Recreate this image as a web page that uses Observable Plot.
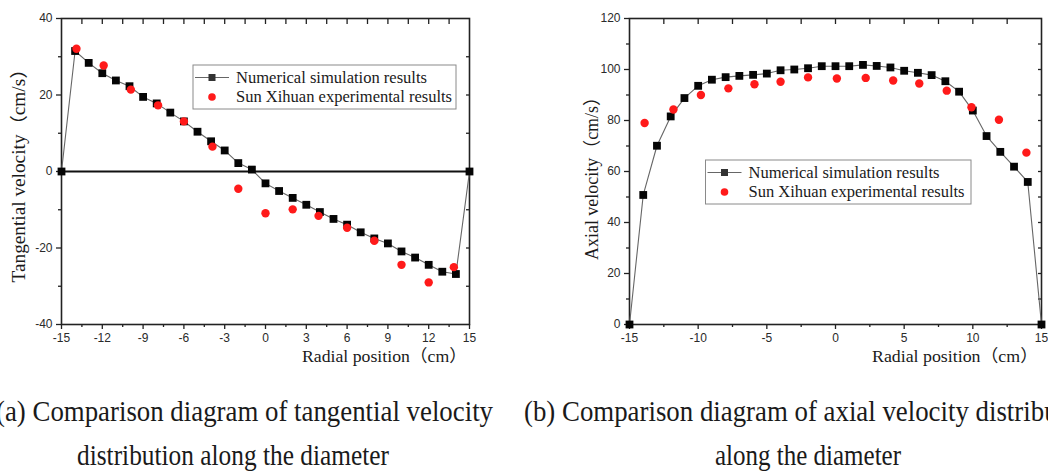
<!DOCTYPE html>
<html>
<head>
<meta charset="utf-8">
<script src="https://cdn.jsdelivr.net/npm/d3@7"></script>
<script src="https://cdn.jsdelivr.net/npm/@observablehq/plot@0.6"></script>
<style>
  html, body { margin: 0; padding: 0; background: #fff; }
  #wrap { position: relative; width: 1048px; height: 473px; overflow: hidden; background: #fff; }
  #pa { position: absolute; left: 0; top: 0; width: 520px; }
  #pb { position: absolute; left: 540px; top: 0; width: 540px; }
  #pa svg, #pb svg { max-width: none !important; }
  #ov { position: absolute; left: 0; top: 0; }
</style>
</head>
<body>
<div id="wrap">
  <div id="pa"></div>
  <div id="pb"></div>
  <svg id="ov" width="1048" height="473"></svg>
</div>
<script>
// ---------- Data: (a) tangential velocity ----------
const tanNumX = [-15,-14,-13,-12,-11,-10,-9,-8,-7,-6,-5,-4,-3,-2,-1,0,1,2,3,4,5,6,7,8,9,10,11,12,13,14,15];
const tanNumY = [0,31.5,28.4,25.7,23.8,22.3,19.5,17.8,15.4,13.1,10.4,7.9,5.5,2.2,0.5,-3.1,-5.1,-6.9,-8.7,-10.6,-12.4,-13.9,-15.9,-17.5,-18.8,-20.9,-22.5,-24.4,-26.2,-26.8,0];
const tanExpX = [-13.9,-11.9,-9.9,-7.9,-6,-3.9,-2,0,2,3.9,6,8,10,12,13.85];
const tanExpY = [32.1,27.7,21.4,17.3,13.1,6.5,-4.5,-10.9,-9.9,-11.6,-14.7,-18.1,-24.4,-29.0,-25.0];
const tanXTicks = [-15,-12,-9,-6,-3,0,3,6,9,12,15];
const tanXMinor = [-13.5,-10.5,-7.5,-4.5,-1.5,1.5,4.5,7.5,10.5,13.5];
const tanYTicks = [-40,-20,0,20,40];
const tanYMinor = [-30,-10,10,30];

// ---------- Data: (b) axial velocity ----------
const axNumX = [-15,-14,-13,-12,-11,-10,-9,-8,-7,-6,-5,-4,-3,-2,-1,0,1,2,3,4,5,6,7,8,9,10,11,12,13,14,15];
const axNumY = [0,50.8,70.1,81.6,88.8,93.6,96.0,97.0,97.5,97.9,98.4,99.7,100.0,100.5,101.3,101.3,101.3,101.8,101.4,100.8,99.5,98.7,97.8,95.4,91.3,83.9,73.9,67.7,61.9,55.9,0];
const axExpX = [-13.9,-11.8,-9.8,-7.8,-5.9,-4.0,-2.0,0.1,2.2,4.2,6.1,8.1,9.9,11.9,13.9];
const axExpY = [79.0,84.3,90.0,92.6,94.2,95.2,96.9,96.5,96.7,95.7,94.5,91.7,85.2,80.3,67.4];
const axXTicks = [-15,-10,-5,0,5,10,15];
const axXMinor = [-12.5,-7.5,-2.5,2.5,7.5,12.5];
const axYTicks = [0,20,40,60,80,100,120];
const axYMinor = [10,30,50,70,90,110];

// ---------- Text ----------
const seriesNames = ["Numerical simulation results", "Sun Xihuan experimental results"];
const xTitle = "Radial position（cm）";
const yTitleA = "Tangential velocity（cm/s）";
const yTitleB = "Axial velocity（cm/s）";
const capA = ["(a) Comparison diagram of tangential velocity", "distribution along the diameter"];
const capB = ["(b) Comparison diagram of axial velocity distribution", "along the diameter"];

const zip = (xs, ys) => xs.map((x, i) => ({x, y: ys[i]}));
const fmt = d => String(d); // ASCII hyphen-minus like the reference

function panel({numX, numY, expX, expY, xDom, yDom, xTicks, xMinor, yTicks, yMinor, topTicks, rightTicks, width, mL, mR, zeroRule}) {
  const num = zip(numX, numY), exp = zip(expX, expY);
  const none = () => "";
  const tk = {stroke: "#222", strokeWidth: 1.3, label: null};
  const marks = [Plot.frame({stroke: "#222", strokeWidth: 1.6})];
  if (zeroRule) marks.push(Plot.ruleY([0], {stroke: "#111", strokeWidth: 2}));
  marks.push(
    Plot.axisX({...tk, ticks: xTicks, tickSize: 5, tickPadding: 4, tickFormat: fmt}),
    Plot.axisX({...tk, ticks: xMinor, tickSize: 3, tickFormat: none}),
    Plot.axisX({...tk, anchor: "top", ticks: topTicks, tickSize: 5, dy: 5, tickFormat: none}),
    Plot.axisY({...tk, ticks: yTicks, tickSize: 5, tickPadding: 4, tickFormat: fmt}),
    Plot.axisY({...tk, ticks: yMinor, tickSize: 3, tickFormat: none}),
    Plot.axisY({...tk, anchor: "right", ticks: rightTicks, tickSize: 4, dx: -4, tickFormat: none}),
    Plot.line(num, {x: "x", y: "y", stroke: "#666", strokeWidth: 1.1}),
    Plot.dot(num, {x: "x", y: "y", symbol: "square", r: 4.4, fill: "#050505", stroke: "none"}),
    Plot.dot(exp, {x: "x", y: "y", r: 4.2, fill: "#ff1a1a", stroke: "none"})
  );
  return Plot.plot({
    width, height: 370,
    marginLeft: mL, marginRight: mR, marginTop: 18, marginBottom: 46,
    x: {domain: xDom},
    y: {domain: yDom},
    style: {fontFamily: "'Liberation Sans', Arial, sans-serif", fontSize: "12px", color: "#2a2a2a", background: "transparent", overflow: "visible"},
    marks
  });
}

const rng = (a, b, s) => d3.range(a, b + s / 2, s);

document.getElementById("pa").appendChild(panel({
  numX: tanNumX, numY: tanNumY, expX: tanExpX, expY: tanExpY,
  xDom: [-15, 15], yDom: [-40, 40],
  xTicks: tanXTicks, xMinor: tanXMinor, yTicks: tanYTicks, yMinor: tanYMinor,
  topTicks: rng(-13.5, 13.5, 1.5), rightTicks: [-30,-20,-10,10,20,30],
  width: 520, mL: 61, mR: 51, zeroRule: true
}));

document.getElementById("pb").appendChild(panel({
  numX: axNumX, numY: axNumY, expX: axExpX, expY: axExpY,
  xDom: [-15, 15], yDom: [0, 120],
  xTicks: axXTicks, xMinor: axXMinor, yTicks: axYTicks, yMinor: axYMinor,
  topTicks: rng(-12.5, 12.5, 2.5), rightTicks: rng(10, 110, 10),
  width: 540, mL: 89, mR: 39, zeroRule: false
}));

// ---------- Overlay: titles, legends, captions ----------
const ov = d3.select("#ov");
const serif = "'Liberation Serif', 'Times New Roman', 'Noto Sans CJK SC', serif";

function txt(s, x, y, size, opts = {}) {
  const t = ov.append("text").attr("x", x).attr("y", y).text(s)
    .attr("font-family", serif).attr("font-size", size).attr("fill", opts.fill || "#1a1a1a")
    .attr("text-anchor", opts.anchor || "start");
  if (opts.len) t.attr("textLength", opts.len).attr("lengthAdjust", "spacingAndGlyphs");
  if (opts.rotate) t.attr("transform", `rotate(-90 ${x} ${y})`);
  return t;
}

// axis titles
txt(xTitle, 302, 362, 17, {len: 165});
txt(xTitle, 872, 362, 17, {len: 166});
txt(yTitleA, 25, 171, 18, {anchor: "middle", rotate: true, len: 223});
txt(yTitleB, 598, 174, 18, {anchor: "middle", rotate: true, len: 172});

// legends
function legend(x0, y0, w, h) {
  ov.append("rect").attr("x", x0).attr("y", y0).attr("width", w).attr("height", h)
    .attr("fill", "#fff").attr("stroke", "#8a8a8a").attr("stroke-width", 1);
  const ly = y0 + 12.5;
  ov.append("line").attr("x1", x0 + 2).attr("x2", x0 + 36).attr("y1", ly).attr("y2", ly)
    .attr("stroke", "#666").attr("stroke-width", 1);
  ov.append("rect").attr("x", x0 + 15.5).attr("y", ly - 3.5).attr("width", 7).attr("height", 7).attr("fill", "#333");
  ov.append("circle").attr("cx", x0 + 19).attr("cy", y0 + 32).attr("r", 3.8).attr("fill", "#ff1a1a");
  txt(seriesNames[0], x0 + 43, y0 + 18, 16, {len: 191});
  txt(seriesNames[1], x0 + 43, y0 + 37, 16, {len: 216});
}
legend(193, 65, 263, 44);
legend(705.5, 160, 265.5, 44);

// captions: slightly condensed serif, condensation ratio taken from line (a)
const capSize = 29;
const probe = txt(capA[0], 0, -50, capSize);
const ratio = 497 / probe.node().getComputedTextLength();
probe.remove();
function cap(s, x, y, anchor, len) {
  const t = txt(s, x, y, capSize, {anchor});
  const w = len || t.node().getComputedTextLength() * ratio;
  t.attr("textLength", w).attr("lengthAdjust", "spacingAndGlyphs");
}
cap(capA[0], -4, 421, "start");
cap(capA[1], 233, 465, "middle", 312);
cap(capB[0], 524, 421, "start");
cap(capB[1], 808, 465, "middle", 186);
</script>
</body>
</html>
